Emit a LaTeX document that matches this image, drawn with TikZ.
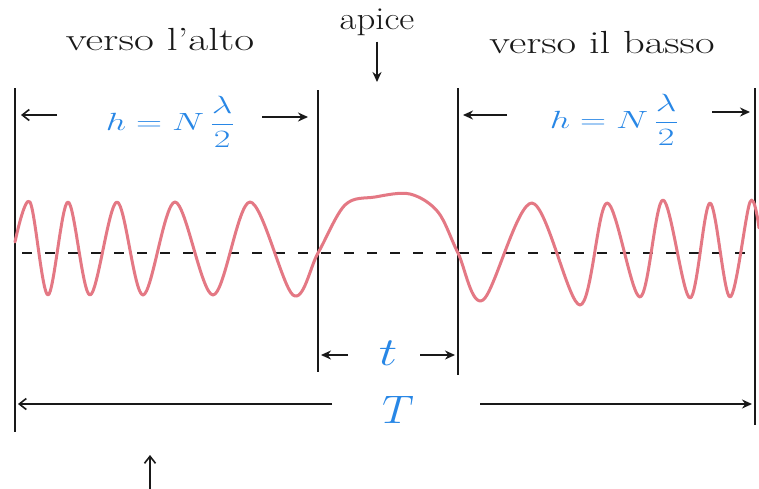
\documentclass[tikz,border=0pt]{standalone}
\usetikzlibrary{arrows.meta}
\definecolor{inkblue}{RGB}{40,135,230}
\definecolor{wavered}{RGB}{228,120,132}
\definecolor{ink}{RGB}{25,25,25}
\newcommand{\handtext}[2]{\scalebox{#1}[1]{#2}}
\tikzset{
  hand/.style={font=\fontsize{32}{36}\selectfont, text=ink, inner sep=0pt},
  bluelab/.style={font=\fontsize{30}{34}\selectfont, text=inkblue, inner sep=0pt},
  vline/.style={draw=ink, line width=1.8pt},
  dimarr/.style={draw=ink, line width=1.6pt, -{Stealth[length=10pt,width=9pt]}},
  barbarr/.style={draw=ink, line width=1.6pt, -{Straight Barb[length=7pt,width=11pt]}},
  wave/.style={draw=wavered, line width=3pt, line cap=round, line join=round},
  axisline/.style={draw=ink, line width=1.8pt, dash pattern=on 10pt off 13pt}
}
\begin{document}
\begin{tikzpicture}[x=1pt,y=-1pt]
\useasboundingbox[fill=white] (0,0) rectangle (759,488);
% vertical bars
\coordinate (L1t) at (15,88);  \coordinate (L1b) at (15,432);
\coordinate (L2t) at (318,90); \coordinate (L2b) at (318,372);
\coordinate (L3t) at (458,88); \coordinate (L3b) at (458,375);
\coordinate (L4t) at (755,88); \coordinate (L4b) at (755,425);
\draw[vline] (L1t) -- (L1b);
\draw[vline] (L2t) -- (L2b);
\draw[vline] (L3t) -- (L3b);
\draw[vline] (L4t) -- (L4b);
% headings
\node[hand] (alto) at (160,40) {\handtext{1.35}{verso l'alto}};
\node[hand] (apice) at (377,22) {\handtext{1.15}{apice}};
\coordinate (apiceTip) at (377,82);
\draw[dimarr] ([yshift=-6pt]apice.south) -- (apiceTip);
\node[hand] (basso) at (602,43) {\handtext{1.33}{verso il basso}};
% h = N lambda/2 labels
\node[bluelab] (h1) at (170,122) {\handtext{1.45}{$\displaystyle h = N\,\frac{\lambda}{2}$}};
\coordinate (a1s) at (57,115);  \coordinate (a1e) at (21,115);
\coordinate (a2s) at (262,117); \coordinate (a2e) at (308,117);
\draw[barbarr] (a1s) -- (a1e);
\draw[dimarr] (a2s) -- (a2e);
\node[bluelab] (h2) at (614,120) {\handtext{1.45}{$\displaystyle h = N\,\frac{\lambda}{2}$}};
\coordinate (b1s) at (507,115); \coordinate (b1e) at (463,115);
\coordinate (b2s) at (712,112); \coordinate (b2e) at (750,112);
\draw[dimarr] (b1s) -- (b1e);
\draw[dimarr] (b2s) -- (b2e);
% axis
\coordinate (axL) at (22,253); \coordinate (axR) at (757,253);
\draw[axisline] (axL) -- (axR);
% wave
\draw[wave] plot[smooth, tension=0.55] coordinates {
  (15,242) (30,202) (48,295) (68,202) (90,295) (117,202) (143,295)
  (175,202) (213,295) (250,202) (293,295) (318,253) (345,205)
  (375,197) (410,194) (438,212) (458,253) (483,300) (532,203)
  (580,305) (607,203) (640,297) (663,200) (690,298) (710,203) (730,297)
  (750,202) (759,228)};
% t label
\node[bluelab] (tl) at (388,353) {\scalebox{2.1}[1.6]{$t$}};
\coordinate (t1s) at (348,355); \coordinate (t1e) at (321,355);
\coordinate (t2s) at (420,355); \coordinate (t2e) at (455,355);
\draw[dimarr] (t1s) -- (t1e);
\draw[dimarr] (t2s) -- (t2e);
% T label
\node[bluelab] (TT) at (398,410) {\scalebox{1.8}[1.6]{$T$}};
\coordinate (T1s) at (332,404); \coordinate (T1e) at (18,404);
\coordinate (T2s) at (480,404); \coordinate (T2e) at (752,404);
\draw[barbarr] (T1s) -- (T1e);
\draw[dimarr] (T2s) -- (T2e);
% bottom arrow
\coordinate (upS) at (150,490); \coordinate (upE) at (150,455);
\draw[barbarr] (upS) -- (upE);
\end{tikzpicture}
\end{document}
